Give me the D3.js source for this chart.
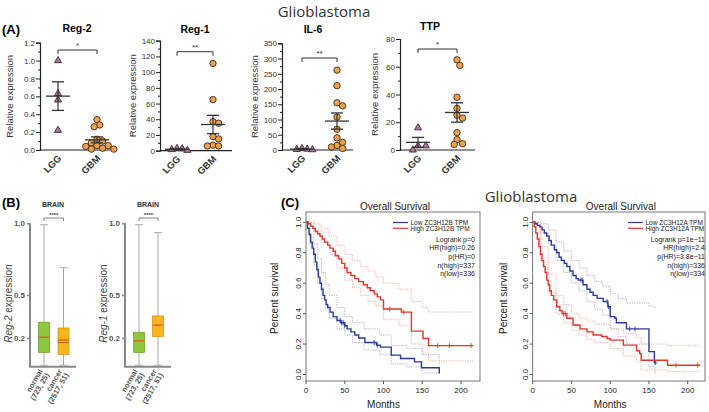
<!DOCTYPE html>
<html><head><meta charset="utf-8">
<script src="https://cdn.jsdelivr.net/npm/d3@7"></script>
<style>body{margin:0;background:#fff}svg{display:block}text{font-family:"Liberation Sans",Arial,sans-serif}</style>
</head><body><svg id="c" width="709" height="412"></svg>
<script>
// ---------- DATA ----------
const groupsA = ["LGG","GBM"];
const titlesA = ["Reg-2","Reg-1","IL-6","TTP"];
const sigA = ["*","**","**","*"];
const yMaxA = [1.2,140,350,80];
const yStepA = [0.2,20,50,20];
const reg2LGG = [1.0,0.63,0.56,0.22];
const reg2GBM = [0.34,0.28,0.26,0.12,0.10,0.08,0.05,0.05,0.04,0.02,0.01,0.01];
const reg1LGG = [2.5,1.5,3,0.5];
const reg1GBM = [111,65,37,35,18,15,7,6,6];
const il6LGG = [3,2,5,1];
const il6GBM = [262,211,155,145,108,68,40,25,15,10,5];
const ttpLGG = [16,3,3,0];
const ttpGBM = [65,61,38,30,25,23,12.5,7.5,4,4.5];

const groupsB = ["normal","cancer"];
const countsB = ["(723, 25)","(2517, 51)"];
const ticksB = [0.2,0.5,1.0];
const reg2Lo = [0.01,0.01], reg2Q1 = [0.10,0.086], reg2Med = [0.205,0.186], reg2Q3 = [0.31,0.27], reg2Hi = [0.99,0.69];
const reg1Lo = [0.01,0.01], reg1Q1 = [0.10,0.21], reg1Med = [0.18,0.29], reg1Q3 = [0.24,0.354], reg1Hi = [0.99,0.935];
const reg2Alt = [0.205,0.168];

const kmXTicks = [0,50,100,150,200];
const kmYTicks = [0,0.2,0.4,0.6,0.8,1.0];
// Left: ZC3H12B
const bLowT = [0,2,4,6,8,10,12,14,16,18,20,22,24,26,28,31,35,40,45,50,53,58,63,68,76,91,96,110,122,140,149,172];
const bLowS = [1.0,0.96,0.92,0.87,0.83,0.79,0.74,0.69,0.64,0.60,0.56,0.52,0.49,0.46,0.44,0.41,0.38,0.355,0.34,0.32,0.30,0.28,0.26,0.24,0.21,0.193,0.18,0.127,0.105,0.083,0.044,0.007];
const bHighT = [0,3,6,9,12,15,18,21,24,28,31,35,38,42,46,50,53,58,63,68,74,79,83,88,92,96,100,123,136,151,158,216];
const bHighS = [1.0,0.99,0.975,0.96,0.94,0.925,0.91,0.89,0.87,0.85,0.83,0.81,0.78,0.76,0.73,0.70,0.67,0.65,0.63,0.61,0.59,0.57,0.55,0.53,0.51,0.49,0.43,0.41,0.285,0.237,0.19,0.19];
const bHighCIT = [0,10,20,30,40,50,60,70,80,90,100,120,136,150,158,216];
const bHighUp = [1.0,0.99,0.96,0.91,0.85,0.79,0.75,0.71,0.68,0.64,0.60,0.56,0.48,0.44,0.41,0.41];
const bHighLo = [1.0,0.95,0.87,0.79,0.70,0.62,0.57,0.52,0.48,0.45,0.36,0.32,0.20,0.14,0.09,0.09];
const bLowCIT = [0,5,10,15,20,25,30,40,50,60,75,95,110,130,150,172];
const bLowUp = [1.0,0.96,0.86,0.76,0.67,0.59,0.52,0.44,0.38,0.34,0.30,0.26,0.19,0.17,0.13,0.06];
const bLowLo = [1.0,0.86,0.72,0.60,0.50,0.43,0.37,0.30,0.26,0.21,0.16,0.13,0.07,0.05,0.01,0.0];
const bLowCens = [44,46,48,50,88,92];
const bHighCens = [108,126,170,185,213];
// Right: ZC3H12A
const aLowT = [0,3,6,9,12,15,18,21,24,28,31,34,37,41,44,48,52,56,59,65,70,74,78,83,91,97,100,106,108,121,150,157,160];
const aLowS = [1.0,0.99,0.98,0.97,0.95,0.93,0.91,0.88,0.85,0.82,0.80,0.77,0.75,0.73,0.71,0.68,0.65,0.63,0.62,0.59,0.56,0.54,0.52,0.50,0.48,0.445,0.38,0.37,0.34,0.30,0.15,0.077,0.077];
const aHighT = [0,2,4,6,8,10,12,14,16,18,20,22,24,27,31,35,38,44,52,61,70,78,89,96,100,117,134,138,140,174,216];
const aHighS = [1.0,0.97,0.93,0.89,0.84,0.79,0.75,0.71,0.67,0.62,0.59,0.55,0.52,0.49,0.445,0.42,0.40,0.37,0.325,0.30,0.28,0.26,0.25,0.237,0.226,0.193,0.156,0.138,0.094,0.061,0.061];
const aLowCIT = [0,10,20,30,40,50,60,70,80,90,100,110,121,150,158];
const aLowUp = [1.0,0.99,0.95,0.87,0.81,0.75,0.70,0.65,0.61,0.58,0.53,0.50,0.47,0.45,0.43];
const aLowLo = [1.0,0.93,0.85,0.75,0.67,0.60,0.55,0.48,0.43,0.39,0.30,0.25,0.20,0.05,0.0];
const aHighCIT = [0,10,20,30,40,50,60,70,80,100,117,134,140,174,216];
const aHighUp = [1.0,0.84,0.66,0.52,0.46,0.40,0.37,0.35,0.33,0.30,0.27,0.24,0.20,0.19,0.19];
const aHighLo = [1.0,0.74,0.54,0.40,0.34,0.29,0.26,0.23,0.21,0.17,0.12,0.08,0.03,0.02,0.02];
const aLowCens = [62,64,96,98,125,132,158];
const aHighCens = [40,42,185,213];

// ---------- DRAW ----------
const svg = d3.select("#c");
const FONT = '"Liberation Sans",Arial,sans-serif';
svg.append("text").attr("x",324).attr("y",17).attr("text-anchor","middle")
  .style("font-family",'"Open Sans",sans-serif').style("font-size","15px").attr("fill","#333").text("Glioblastoma");
svg.append("text").attr("x",2).attr("y",34).style("font-size","13px").style("font-weight","bold").text("(A)");
svg.append("text").attr("x",2).attr("y",207).style("font-size","13px").style("font-weight","bold").text("(B)");
svg.append("text").attr("x",281).attr("y",207).style("font-size","13px").style("font-weight","bold").text("(C)");
svg.append("text").attr("x",531).attr("y",202).attr("text-anchor","middle")
  .style("font-family",'"Open Sans",sans-serif').style("font-size","15px").attr("fill","#333").text("Glioblastoma");

// Panel A
const layoutA = [
  {ax:40, xs:[58,97], xe:112, yt:42.7, yb:150, yl:13, tx:77, ty:32, by:50},
  {ax:160, xs:[177,213], xe:232, yt:40.7, yb:150.7, yl:136, tx:195, ty:33, by:51.7},
  {ax:282, xs:[302,337], xe:353, yt:43.3, yb:150, yl:258, tx:313, ty:33, by:58},
  {ax:400, xs:[418,457], xe:475, yt:39, yb:150, yl:378, tx:430, ty:30, by:49}
];
const dataA = [[reg2LGG,reg2GBM],[reg1LGG,reg1GBM],[il6LGG,il6GBM],[ttpLGG,ttpGBM]];

function swarm(vals, y, cx, d){
  const pts = vals.map(v=>({v, y:y(v)})).sort((a,b)=>a.y-b.y);
  const placed=[];
  pts.forEach(p=>{
    let best=null;
    for(let k=0;k<60 && best===null;k++){
      const offs = k===0?[0]:[k*d*0.5,-k*d*0.5];
      for(const o of offs){
        const x=cx+o;
        if(placed.every(q=>Math.hypot(q.x-x,q.y-p.y)>=d)){best=x;break;}
      }
    }
    p.x=best; placed.push(p);
  });
  return placed;
}

layoutA.forEach((L,i)=>{
  const g = svg.append("g");
  const y = d3.scaleLinear().domain([0,yMaxA[i]]).range([L.yb,L.yt]);
  const x = d3.scaleOrdinal().domain(groupsA).range(L.xs);
  const fmt = yMaxA[i]<2 ? d3.format(".1f") : d3.format("d");
  const ax = g.append("g").attr("transform",`translate(${L.ax},0)`)
    .call(d3.axisLeft(y).tickValues(d3.range(0,yMaxA[i]+1e-9,yStepA[i])).tickFormat(fmt).tickSize(4).tickPadding(1));
  ax.select(".domain").attr("stroke","#222").attr("stroke-width",1.2);
  ax.selectAll(".tick line").attr("stroke","#222").attr("stroke-width",1);
  ax.selectAll("text").style("font-size","8px").attr("fill","#333").style("font-family",FONT);
  g.append("g").attr("transform",`translate(${L.ax},0)`)
    .call(d3.axisLeft(y).tickValues(d3.range(yStepA[i]/2,yMaxA[i],yStepA[i])).tickFormat("").tickSize(2))
    .call(s=>{s.select(".domain").remove(); s.selectAll("line").attr("stroke","#222");});
  g.append("line").attr("x1",L.ax).attr("x2",L.xe).attr("y1",L.yb).attr("y2",L.yb).attr("stroke","#222").attr("stroke-width",1.2);
  groupsA.forEach(gr=>{
    const tx=x(gr)+4, ty=L.yb+9;
    g.append("text").attr("x",tx).attr("y",ty).attr("transform",`rotate(-45 ${tx} ${ty})`).attr("text-anchor","end")
      .style("font-size","9.5px").style("font-weight","bold").attr("fill","#333").text(gr);
  });
  g.append("text").attr("transform",`translate(${L.yl},${(L.yt+L.yb)/2}) rotate(-90)`).attr("text-anchor","middle")
    .style("font-size","9.5px").attr("fill","#333").text("Relative expression");
  g.append("text").attr("x",L.tx).attr("y",L.ty).attr("text-anchor","middle").style("font-size","10.5px").style("font-weight","bold").text(titlesA[i]);
  const [x0,x1]=L.xs;
  g.append("path").attr("d",`M${x0},${L.by+4}V${L.by}H${x1}V${L.by+4}`).attr("fill","none").attr("stroke","#333").attr("stroke-width",1);
  g.append("text").attr("x",(x0+x1)/2).attr("y",L.by-2).attr("text-anchor","middle").style("font-size","8px").attr("fill","#333").text(sigA[i]);
  const r=3.2;
  const lgg = swarm(dataA[i][0], y, x("LGG"), 5.2);
  const gbm = swarm(dataA[i][1], y, x("GBM"), 5.6);
  const tri = d3.symbol().type(d3.symbolTriangle).size(22);
  g.selectAll(".t").data(lgg).join("path").attr("d",tri).attr("transform",d=>`translate(${d.x},${d.y})`)
    .attr("fill","#a9779c").attr("stroke","#3a2a35").attr("stroke-width",0.9);
  g.selectAll(".c").data(gbm).join("circle").attr("cx",d=>d.x).attr("cy",d=>d.y).attr("r",r)
    .attr("fill","#f2a14a").attr("stroke","#3a2a20").attr("stroke-width",0.9);
  dataA[i].forEach((vals,j)=>{
    const m=d3.mean(vals), se=d3.deviation(vals)/Math.sqrt(vals.length);
    const cx=L.xs[j];
    const lo=Math.max(0,m-se);
    g.append("line").attr("x1",cx-12).attr("x2",cx+12).attr("y1",y(m)).attr("y2",y(m)).attr("stroke","#333").attr("stroke-width",1.3);
    g.append("line").attr("x1",cx).attr("x2",cx).attr("y1",y(m+se)).attr("y2",y(lo)).attr("stroke","#333").attr("stroke-width",1.2);
    [m+se,lo].forEach(v=>g.append("line").attr("x1",cx-6).attr("x2",cx+6).attr("y1",y(v)).attr("y2",y(v)).attr("stroke","#333").attr("stroke-width",1.3));
  });
});

// Panel B
const layoutB = [
  {ax:30, xs:[44,63.5], xe:76, yl:12, bx:53, lab:"Reg-2", lo:reg2Lo,q1:reg2Q1,med:reg2Med,q3:reg2Q3,hi:reg2Hi, alt:reg2Alt},
  {ax:125, xs:[139,158], xe:171, yl:107, bx:148, lab:"Reg-1", lo:reg1Lo,q1:reg1Q1,med:reg1Med,q3:reg1Q3,hi:reg1Hi, alt:null}
];
const boxFill=["#8dc63f","#f8b61c"], boxStroke=["#6fa32c","#d9981a"];
layoutB.forEach(L=>{
  const g=svg.append("g");
  const y=d3.scaleLinear().domain([0,1]).range([366.7,223.3]);
  const x=d3.scaleOrdinal().domain(groupsB).range(L.xs);
  const ax=g.append("g").attr("transform",`translate(${L.ax},0)`).call(d3.axisLeft(y).tickValues(ticksB).tickFormat(d3.format(".1f")).tickSize(3).tickPadding(2));
  ax.select(".domain").remove();
  ax.selectAll(".tick line").attr("stroke","#888").attr("stroke-width",1.5);
  ax.selectAll("text").style("font-size","8px").style("font-weight","bold").attr("fill","#555").style("font-family",FONT);
  g.append("path").attr("d",`M${L.ax},${y(1)}V${y(0)}H${L.xe}`).attr("fill","none").attr("stroke","#888").attr("stroke-width",2);
  g.append("text").attr("transform",`translate(${L.yl},${y(0.44)}) rotate(-90)`).attr("text-anchor","middle").style("font-size","10px").attr("fill","#444")
    .call(t=>{t.append("tspan").style("font-style","italic").text(L.lab); t.append("tspan").text(" expression");});
  g.append("text").attr("x",L.bx).attr("y",207).attr("text-anchor","middle").style("font-size","7px").style("font-weight","bold").attr("fill","#333").text("BRAIN");
  const [x0,x1]=L.xs;
  g.append("path").attr("d",`M${x0},${221}V${218}H${x1}V${221}`).attr("fill","none").attr("stroke","#666").attr("stroke-width",0.8);
  g.append("text").attr("x",(x0+x1)/2).attr("y",217).attr("text-anchor","middle").style("font-size","6px").style("font-weight","bold").attr("fill","#444").text("****");
  groupsB.forEach((gr,j)=>{
    const cx=x(gr), w=11;
    g.append("line").attr("x1",cx).attr("x2",cx).attr("y1",y(L.hi[j])).attr("y2",y(L.lo[j])).attr("stroke","#aaa").attr("stroke-width",1);
    [L.hi[j],L.lo[j]].forEach(v=>g.append("line").attr("x1",cx-4).attr("x2",cx+4).attr("y1",y(v)).attr("y2",y(v)).attr("stroke","#aaa").attr("stroke-width",1));
    g.append("rect").attr("x",cx-w/2).attr("width",w).attr("y",y(L.q3[j])).attr("height",y(L.q1[j])-y(L.q3[j]))
      .attr("fill",boxFill[j]).attr("stroke",boxStroke[j]).attr("stroke-width",0.8);
    if(L.alt && L.alt[j]!==L.med[j]) g.append("line").attr("x1",cx-w/2).attr("x2",cx+w/2).attr("y1",y(L.alt[j])).attr("y2",y(L.alt[j])).attr("stroke","#b5651d").attr("stroke-width",1);
    g.append("line").attr("x1",cx-w/2).attr("x2",cx+w/2).attr("y1",y(L.med[j])).attr("y2",y(L.med[j])).attr("stroke","#e0532a").attr("stroke-width",1.2);
    const t=g.append("text").attr("transform",`translate(${cx-3},${370}) rotate(-60)`).attr("text-anchor","end")
      .style("font-size","7.5px").style("font-weight","bold").attr("fill","#555");
    t.append("tspan").attr("x",0).attr("dy","0.3em").text(gr);
    t.append("tspan").attr("x",0).attr("dy","1.0em").text(countsB[j]);
  });
});

// Panel C
const layoutC = [
  {x0:306, fl:306, fr:480, leg:[393,408], tr:475, yl:278, gene:"ZC3H12B",
   series:[{t:bLowT,s:bLowS,ct:bLowCIT,up:bLowUp,lo:bLowLo,cens:bLowCens,c:"#2b3a9e",cl:"#9ea6dc"},
           {t:bHighT,s:bHighS,ct:bHighCIT,up:bHighUp,lo:bHighLo,cens:bHighCens,c:"#e5352b",cl:"#f5a49c"}],
   stats:["Logrank p=0","HR(high)=0.26","p(HR)=0","n(high)=337","n(low)=336"]},
  {x0:532.7, fl:532.7, fr:705, leg:[628,643], tr:705, yl:507, gene:"ZC3H12A",
   series:[{t:aLowT,s:aLowS,ct:aLowCIT,up:aLowUp,lo:aLowLo,cens:aLowCens,c:"#2b3a9e",cl:"#9ea6dc"},
           {t:aHighT,s:aHighS,ct:aHighCIT,up:aHighUp,lo:aHighLo,cens:aHighCens,c:"#e5352b",cl:"#f5a49c"}],
   stats:["Logrank p=1e\u221211","HR(high)=2.4","p(HR)=3.8e\u221211","n(high)=336","n(low)=334"]}
];
layoutC.forEach(L=>{
  const g=svg.append("g");
  const x=d3.scaleLinear().domain([0,200]).range([L.x0,L.x0+155]);
  const y=d3.scaleLinear().domain([0,1]).range([374.5,222.3]);
  const top=212, bot=381;
  g.append("rect").attr("x",L.fl).attr("y",top).attr("width",L.fr-L.fl).attr("height",bot-top).attr("fill","none").attr("stroke","#555").attr("stroke-width",0.8);
  kmXTicks.forEach(v=>{
    g.append("line").attr("x1",x(v)).attr("x2",x(v)).attr("y1",bot).attr("y2",bot+3).attr("stroke","#555");
    g.append("text").attr("x",x(v)).attr("y",bot+12).attr("text-anchor","middle").style("font-size","8px").attr("fill","#222").text(v);
  });
  kmYTicks.forEach(v=>{
    g.append("line").attr("x1",L.fl).attr("x2",L.fl-3).attr("y1",y(v)).attr("y2",y(v)).attr("stroke","#555");
    g.append("text").attr("transform",`translate(${L.fl-5},${y(v)}) rotate(-90)`).attr("text-anchor","middle").style("font-size","8px").attr("fill","#222").text(d3.format(".1f")(v));
  });
  g.append("text").attr("x",(L.fl+L.fr)/2+2).attr("y",top-2).attr("text-anchor","middle").style("font-size","10px").attr("fill","#222").text("Overall Survival");
  g.append("text").attr("x",x(100)).attr("y",408).attr("text-anchor","middle").style("font-size","10px").attr("fill","#222").text("Months");
  g.append("text").attr("transform",`translate(${L.yl},${y(0.5)}) rotate(-90)`).attr("text-anchor","middle").style("font-size","10px").attr("fill","#222").text("Percent survival");
  const line=d3.line().x(d=>x(d[0])).y(d=>y(d[1])).curve(d3.curveStepAfter);
  L.series.forEach(S=>{
    [S.up,S.lo].forEach(arr=>{
      g.append("path").attr("d",line(S.ct.map((t,k)=>[t,arr[k]]))).attr("fill","none").attr("stroke",S.cl).attr("stroke-width",0.9).attr("stroke-dasharray","1.2,1.2");
    });
  });
  L.series.forEach(S=>{
    g.append("path").attr("d",line(S.t.map((t,k)=>[t,S.s[k]]))).attr("fill","none").attr("stroke",S.c).attr("stroke-width",1.4);
    S.cens.forEach(c=>{
      const k=d3.bisectRight(S.t,c)-1; const v=S.s[Math.max(0,k)];
      g.append("line").attr("x1",x(c)).attr("x2",x(c)).attr("y1",y(v)-2.5).attr("y2",y(v)+2.5).attr("stroke",S.c).attr("stroke-width",0.9);
    });
  });
  const labels=["Low "+L.gene+" TPM","High "+L.gene+" TPM"];
  L.series.forEach((S,k)=>{
    const yy=222.5+k*5.8;
    g.append("line").attr("x1",L.leg[0]).attr("x2",L.leg[1]).attr("y1",yy).attr("y2",yy).attr("stroke",S.c).attr("stroke-width",1.2);
    g.append("text").attr("x",L.leg[1]+2.5).attr("y",yy+2.2).style("font-size","6.5px").attr("fill","#222").text(labels[k]);
  });
  L.stats.forEach((s,k)=>{
    g.append("text").attr("x",L.tr).attr("y",241.5+k*8.7).attr("text-anchor","end").style("font-size","7px").attr("fill","#222").text(s);
  });
});
</script></body></html>
